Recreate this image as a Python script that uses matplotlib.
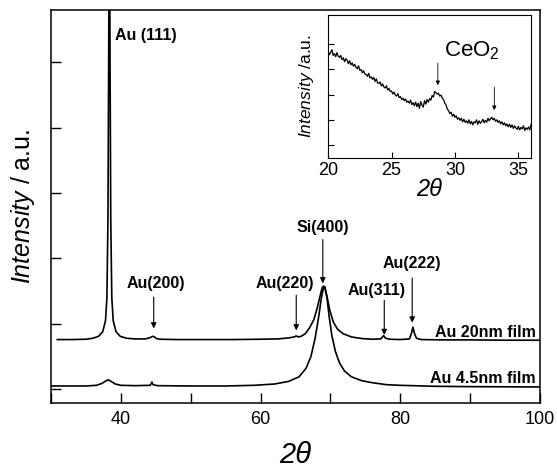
import numpy as np
import matplotlib
matplotlib.use("Agg")
import matplotlib.pyplot as plt

plt.rcParams['font.family'] = ['Liberation Sans', 'DejaVu Sans']
plt.rcParams['mathtext.fontset'] = 'custom'
plt.rcParams['mathtext.rm'] = 'Liberation Sans'
plt.rcParams['mathtext.it'] = 'Liberation Sans:italic'

# main pattern, Au 20nm film (offset upward)
x20 = [30.9, 33, 35, 36, 36.8, 37.4, 37.8, 38.0, 38.15, 38.25, 38.35, 38.45, 38.55,
       38.7, 38.9, 39.3, 39.9, 40.8, 42, 43.5, 44.2, 44.55, 44.8, 45.1, 45.6, 48, 52,
       56, 60, 62.5, 64.0, 64.8, 65.1, 65.4, 65.8, 66.4, 67.0, 67.6, 68.1, 68.5, 68.8,
       69.0, 69.2, 69.5, 69.9, 70.4, 71.0, 71.8, 73, 74.5, 76, 77.2, 77.6, 77.9, 78.5,
       80, 81.3, 81.6, 81.8, 82.0, 82.3, 83, 86, 90, 95, 100]
y20 = [0.76, 0.76, 0.765, 0.78, 0.81, 0.88, 1.05, 1.4, 2.6, 5.0, 8.0, 5.0, 2.6,
       1.4, 1.05, 0.88, 0.81, 0.78, 0.77, 0.77, 0.79, 0.81, 0.80, 0.775, 0.765, 0.76, 0.76,
       0.76, 0.765, 0.77, 0.785, 0.80, 0.815, 0.80, 0.81, 0.85, 0.94, 1.06, 1.24, 1.42, 1.55,
       1.58, 1.55, 1.42, 1.21, 1.03, 0.92, 0.85, 0.80, 0.775, 0.765, 0.77, 0.82, 0.78, 0.765,
       0.76, 0.77, 0.86, 0.95, 0.86, 0.78, 0.76, 0.755, 0.755, 0.75, 0.75]

# main pattern, Au 4.5nm film
x45 = [30.1, 33, 35, 36.5, 37.3, 37.9, 38.2, 38.6, 39.2, 40, 42, 44.2, 44.45, 44.6,
       45.2, 50, 55, 59, 62, 64, 65.5, 66.5, 67.2, 67.8, 68.3, 68.7, 69.0, 69.2, 69.5,
       69.8, 70.2, 70.7, 71.3, 72.0, 73.0, 74.5, 76, 78, 80, 85, 90, 100]
y45 = [0.05, 0.05, 0.05, 0.06, 0.09, 0.13, 0.145, 0.12, 0.08, 0.06, 0.055, 0.06, 0.11, 0.07,
       0.055, 0.05, 0.05, 0.06, 0.08, 0.12, 0.19, 0.32, 0.50, 0.78, 1.10, 1.40, 1.55, 1.57, 1.40,
       1.12, 0.82, 0.58, 0.40, 0.28, 0.19, 0.13, 0.10, 0.07, 0.06, 0.045, 0.04, 0.035]

# inset, low angle region (2theta = 20 ... 36, step 0.1)
x_in = np.round(np.arange(161) * 0.1 + 20, 1)
y_in = [3.72, 3.58, 3.66, 3.78, 3.55, 3.62, 3.50, 3.66, 3.52, 3.47,
        3.55, 3.38, 3.46, 3.30, 3.42, 3.36, 3.22, 3.34, 3.18, 3.25,
        3.12, 3.20, 3.08, 3.02, 3.14, 2.96, 2.99, 2.86, 2.95, 2.82,
        2.80, 2.72, 2.84, 2.66, 2.70, 2.60, 2.68, 2.52, 2.62, 2.46,
        2.44, 2.50, 2.34, 2.42, 2.30, 2.26, 2.35, 2.18, 2.24, 2.12,
        2.14, 2.02, 2.10, 1.98, 1.94, 2.04, 1.88, 1.92, 1.80, 1.86,
        1.76, 1.82, 1.70, 1.74, 1.66, 1.78, 1.60, 1.68, 1.56, 1.70,
        1.52, 1.66, 1.45, 1.72, 1.58, 1.50, 1.76, 1.62, 1.80, 1.70,
        1.84, 1.78, 1.96, 1.90, 2.12, 2.08, 2.02, 2.05, 1.94, 1.98,
        1.86, 1.80, 1.66, 1.58, 1.42, 1.36, 1.24, 1.30, 1.14, 1.22,
        1.10, 1.16, 1.02, 1.08, 0.98, 1.06, 0.92, 1.02, 0.90, 0.96,
        0.86, 1.00, 0.84, 0.94, 0.80, 0.92, 0.88, 1.00, 0.82, 0.96,
        0.86, 0.92, 1.02, 0.88, 0.98, 0.90, 1.06, 0.96, 1.04, 1.10,
        1.00, 1.06, 0.94, 1.00, 0.90, 0.96, 0.84, 0.92, 0.80, 0.88,
        0.76, 0.84, 0.72, 0.82, 0.70, 0.80, 0.66, 0.76, 0.68, 0.62,
        0.74, 0.60, 0.70, 0.64, 0.76, 0.58, 0.68, 0.62, 0.72, 0.60,
        0.82]

# peak labels: text, text x, text y, arrow x, arrow top, arrow tip
peak_labels = ['Au(200)', 'Au(220)', 'Si(400)', 'Au(311)', 'Au(222)']
label_x = [45.0, 63.4, 68.9, 76.6, 81.7]
label_y = [1.62, 1.62, 2.48, 1.51, 1.93]
arrow_x = [44.7, 65.1, 68.9, 77.7, 81.7]
arrow_top = [1.41, 1.44, 2.29, 1.36, 1.70]
arrow_tip = [0.93, 0.90, 1.62, 0.83, 1.02]

fig = plt.figure(figsize=(5.57, 4.70), dpi=100)
ax = fig.add_axes([0.0916, 0.1426, 0.878, 0.836])

ax.plot(x20, y20, color='black', lw=1.2)
ax.plot(x45, y45, color='black', lw=1.2)
ax.set_xlim(30, 100)
ax.set_ylim(-0.21, 5.8)
ax.set_xticks(np.arange(30, 101, 10))
ax.set_xticklabels(['' if v % 20 else str(v) for v in range(30, 101, 10)])
ax.set_yticks(np.arange(0, 6))
ax.set_yticklabels([])
ax.tick_params(direction='in', length=7, width=1, labelsize=13, pad=6)
for s in ax.spines.values():
    s.set_linewidth(1.1)
ax.set_xlabel('2θ', fontsize=21, style='italic', labelpad=9)
ax.set_ylabel('$\\mathit{Intensity}$ / a.u.', fontsize=18, labelpad=4)

ax.text(39.1, 5.41, 'Au (111)', fontsize=11.5, fontweight='bold', ha='left', va='center')
for t, tx, ty, axx, a0, a1 in zip(peak_labels, label_x, label_y, arrow_x, arrow_top, arrow_tip):
    ax.text(tx, ty, t, fontsize=11.5, fontweight='bold', ha='center', va='center')
    ax.annotate('', xy=(axx, a1), xytext=(axx, a0),
                arrowprops=dict(arrowstyle='-|>', color='black', lw=0.8,
                                mutation_scale=8, shrinkA=0, shrinkB=0))
ax.text(99.4, 0.87, 'Au 20nm film', fontsize=11.5, fontweight='bold', ha='right', va='center')
ax.text(99.4, 0.17, 'Au 4.5nm film', fontsize=11.5, fontweight='bold', ha='right', va='center')

# inset
axi = fig.add_axes([0.589, 0.664, 0.3645, 0.304])
axi.plot(x_in, y_in, color='black', lw=0.9)
axi.set_xlim(20, 36)
axi.set_ylim(-0.51, 5.15)
axi.set_xticks([20, 25, 30, 35])
axi.set_yticks(np.arange(0, 5))
axi.set_yticklabels([])
axi.tick_params(direction='in', length=4, width=0.8, labelsize=13, pad=3)
axi.set_xlabel('2θ', fontsize=17, style='italic', labelpad=-1)
axi.set_ylabel('$\\mathit{Intensity}$ /a.u.', fontsize=12.5, labelpad=6)
axi.text(29.1, 3.75, 'CeO$_2$', fontsize=16, ha='left', va='center')
for axx, a0, a1 in [(28.65, 3.24, 2.37), (33.1, 2.29, 1.38)]:
    axi.annotate('', xy=(axx, a1), xytext=(axx, a0),
                 arrowprops=dict(arrowstyle='-|>', color='black', lw=0.6,
                                 mutation_scale=6, shrinkA=0, shrinkB=0))

fig.savefig('out.png', dpi=100)
